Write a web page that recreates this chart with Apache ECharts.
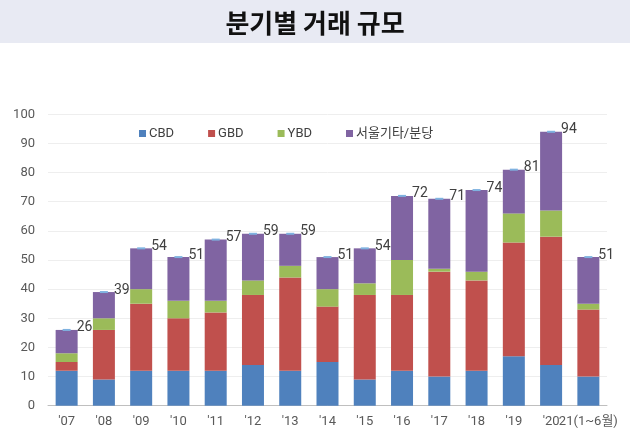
<!DOCTYPE html>
<html>
<head>
<meta charset="utf-8">
<script src="https://cdn.jsdelivr.net/npm/echarts@6/dist/echarts.min.js"></script>
<style>html,body{margin:0;padding:0;background:#fff;}#c{width:630px;height:441px;}</style>
</head>
<body>
<div id="c"></div>
<script>
const categories = ["'07","'08","'09","'10","'11","'12","'13","'14","'15","'16","'17","'18","'19","'20","21(1~6월)"];
const cbd   = [12, 9, 12, 12, 12, 14, 12, 15, 9, 12, 10, 12, 17, 14, 10];
const gbd   = [3, 17, 23, 18, 20, 24, 32, 19, 29, 26, 36, 31, 39, 44, 23];
const ybd   = [3, 4, 5, 6, 4, 5, 4, 6, 4, 12, 1, 3, 10, 9, 2];
const other = [8, 9, 14, 15, 21, 16, 11, 11, 12, 22, 24, 28, 15, 27, 16];
const totals = [26, 39, 54, 51, 57, 59, 59, 51, 54, 72, 71, 74, 81, 94, 51];
const seriesNames = ['CBD', 'GBD', 'YBD', '서울기타/분당'];
const yTicks = { min: 0, max: 100, interval: 10 };

const colors = ['#4F81BD', '#C0504D', '#9BBB59', '#8064A2'];
const font = 'Roboto, "Noto Sans CJK KR", sans-serif';
const chart = echarts.init(document.getElementById('c'));
const bar = (name, data, color) => ({
  name, type: 'bar', stack: 'total', data, barWidth: 22,
  itemStyle: { color }, emphasis: { disabled: true }
});
chart.setOption({
  animation: false,
  backgroundColor: '#ffffff',
  graphic: [{ type: 'rect', left: 0, top: 0, shape: { width: 630, height: 43 }, style: { fill: '#E8EAF3' }, z: -10 }],
  title: {
    text: '분기별 거래 규모', left: 'center', top: 5,
    textStyle: { fontSize: 26, fontWeight: 'bold', color: '#111', fontFamily: '"Noto Sans CJK KR", sans-serif' }
  },
  legend: {
    data: seriesNames, top: 122, left: 134, itemWidth: 7, itemHeight: 7, itemGap: 34,
    icon: 'rect',
    textStyle: { fontSize: 13, color: '#404040', fontFamily: font, padding: [0, 0, 0, -2] }
  },
  grid: { left: 48, right: 23, top: 114.3, bottom: 35.3, containLabel: false },
  xAxis: {
    type: 'category', data: categories,
    axisLine: { lineStyle: { color: '#BFBFBF' } },
    axisTick: { show: false },
    axisLabel: { interval: 0, color: '#595959', fontSize: 13, fontFamily: font, margin: 10 }
  },
  yAxis: {
    type: 'value', min: yTicks.min, max: yTicks.max, interval: yTicks.interval,
    axisLine: { show: false }, axisTick: { show: false },
    splitLine: { lineStyle: { color: '#EEEEEE' } },
    axisLabel: { color: '#595959', fontSize: 13, fontFamily: font, margin: 13 }
  },
  series: [
    bar(seriesNames[0], cbd, colors[0]),
    bar(seriesNames[1], gbd, colors[1]),
    bar(seriesNames[2], ybd, colors[2]),
    bar(seriesNames[3], other, colors[3]),
    {
      name: 'total', type: 'line', data: totals, z: 10,
      symbol: 'rect', symbolSize: [8, 2],
      itemStyle: { color: '#7FB2E0' },
      lineStyle: { opacity: 0 },
      label: { show: true, position: 'right', offset: [1, -2], color: '#404040', fontSize: 14, fontFamily: font },
      emphasis: { disabled: true }
    }
  ]
});
</script>
</body>
</html>
